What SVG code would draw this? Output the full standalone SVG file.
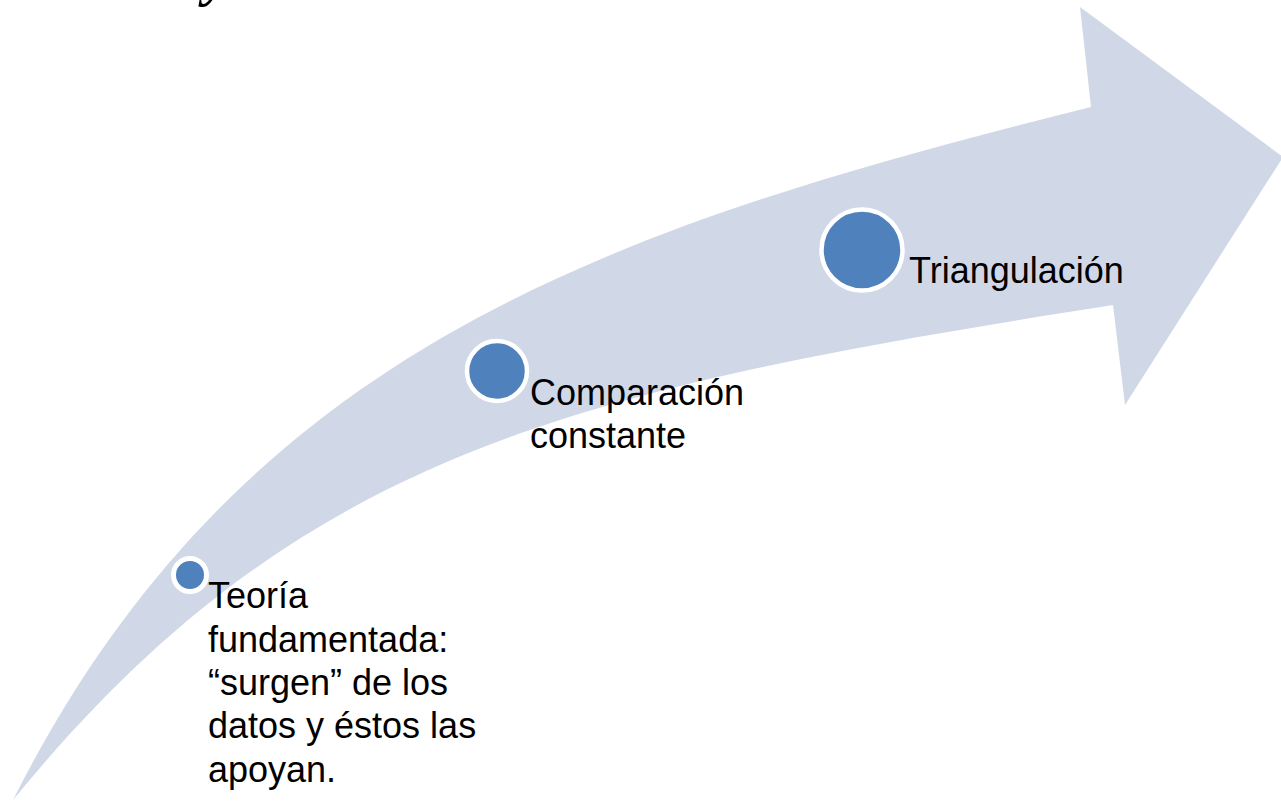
<svg xmlns="http://www.w3.org/2000/svg" width="1281" height="802" viewBox="0 0 1281 802">
<style>
.lbl{font-family:"Liberation Sans",Arial,sans-serif;font-size:36px;fill:#000}
.dot{fill:#4F81BD;stroke:#FFFFFF}
</style>
<rect width="1281" height="802" fill="#FFFFFF"/>
<text x="204" y="-5" font-family="Liberation Serif,serif" font-style="italic" font-weight="bold" font-size="56" fill="#000">y</text>
<g id="connectors">
<path id="arrow" fill="#D0D8E8" d="M13,800 C240,350 606,228 1091,107 L1080,7 L1283,157 L1125,405 L1113,305 C570,390 298,452 13,800 Z"/>
</g>
<g id="node-teoria">
<circle class="dot" cx="190" cy="575" r="16.5" stroke-width="5"/>
<text class="lbl"><tspan x="208" y="608">Teoría</tspan><tspan x="208" y="652">fundamentada:</tspan><tspan x="208" y="695">“surgen” de los</tspan><tspan x="208" y="738">datos y éstos las</tspan><tspan x="208" y="782">apoyan.</tspan></text>
</g>
<g id="node-comparacion">
<circle class="dot" cx="497" cy="371" r="30" stroke-width="4.5"/>
<text class="lbl"><tspan x="530" y="405">Comparación</tspan><tspan x="530" y="448">constante</tspan></text>
</g>
<g id="node-triangulacion">
<circle class="dot" cx="862" cy="250" r="40.5" stroke-width="4.5"/>
<text class="lbl" x="909" y="283">Triangulación</text>
</g>
</svg>
